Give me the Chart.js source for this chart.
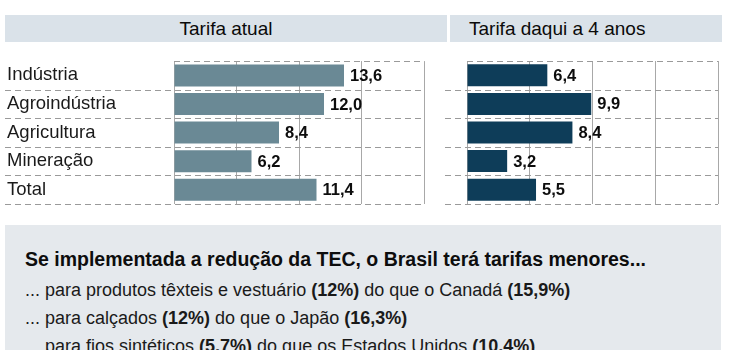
<!DOCTYPE html>
<html>
<head>
<meta charset="utf-8">
<script src="https://cdn.jsdelivr.net/npm/chart.js@4.4.0/dist/chart.umd.min.js"></script>
<style>
  html, body { margin: 0; padding: 0; background: #ffffff; }
  body { width: 730px; height: 350px; position: relative; overflow: hidden; font-family: "Liberation Sans", Arial, sans-serif; color: #141414; }
  .hdr { position: absolute; top: 15px; height: 27px; background: #dae2e9; font-size: 19px; line-height: 27px; color: #0a0a0a; }
  #h1 { left: 5px; width: 442px; text-align: center; }
  #h2 { left: 450px; width: 272px; }
  #h2 span { position: absolute; left: 19px; }
  canvas { position: absolute; }
  #box { position: absolute; left: 5px; top: 225px; width: 716px; height: 130px; background: #e5e9ed; }
  #box .t { position: absolute; left: 20px; top: 22.5px; font-weight: bold; font-size: 19.5px; color: #0d0d0d; white-space: nowrap; }
  #box .l { position: absolute; left: 20px; font-size: 18px; color: #1a1a1a; white-space: nowrap; }
</style>
</head>
<body>
<div class="hdr" id="h1">Tarifa atual</div>
<div class="hdr" id="h2"><span>Tarifa daqui a 4 anos</span></div>
<canvas id="c1" width="440" height="170" style="left:0;top:50px"></canvas>
<canvas id="c2" width="290" height="170" style="left:440px;top:50px"></canvas>
<div id="box">
  <div class="t">Se implementada a redução da TEC, o Brasil terá tarifas menores...</div>
  <div class="l" style="top:54.5px">... para produtos têxteis e vestuário <b>(12%)</b> do que o Canadá <b>(15,9%)</b></div>
  <div class="l" style="top:82.5px">... para calçados <b>(12%)</b> do que o Japão <b>(16,3%)</b></div>
  <div class="l" style="top:110.5px">... para fios sintéticos <b>(5,7%)</b> do que os Estados Unidos <b>(10,4%)</b></div>
</div>
<script>
const categories = ["Indústria", "Agroindústria", "Agricultura", "Mineração", "Total"];
const tarifaAtual = [13.6, 12.0, 8.4, 6.2, 11.4];
const tarifaFutura = [6.4, 9.9, 8.4, 3.2, 5.5];
const xTicks = [0, 5, 10, 15, 20];

const rowLines = {
  id: 'rowLines',
  beforeDatasetsDraw(chart, args, opts) {
    const ca = chart.chartArea;
    const n = chart.data.labels.length;
    const band = (ca.bottom - ca.top) / n;
    const ctx = chart.ctx;
    ctx.save();
    ctx.strokeStyle = '#9a9a9a';
    ctx.lineWidth = 1;
    ctx.setLineDash([6, 4]);
    for (let k = 0; k <= n; k++) {
      const y = Math.round(ca.top + k * band) + 0.5;
      const x0 = (k === 0) ? ca.left : opts.start;
      ctx.beginPath();
      ctx.moveTo(x0, y);
      ctx.lineTo(ca.right, y);
      ctx.stroke();
    }
    ctx.restore();
  }
};

const valueLabels = {
  id: 'valueLabels',
  afterDatasetsDraw(chart) {
    const ctx = chart.ctx;
    const meta = chart.getDatasetMeta(0);
    const vals = chart.data.datasets[0].data;
    ctx.save();
    ctx.font = 'bold 16.5px "Liberation Sans", Arial, sans-serif';
    ctx.fillStyle = '#0d0d0d';
    ctx.textAlign = 'left';
    ctx.textBaseline = 'middle';
    meta.data.forEach((bar, i) => {
      ctx.fillText(vals[i].toFixed(1).replace('.', ','), bar.x + 6, bar.y + 1);
    });
    ctx.restore();
  }
};

function makeChart(id, data, color, showLabels, pad) {
  return new Chart(document.getElementById(id), {
    type: 'bar',
    data: {
      labels: categories,
      datasets: [{ data: data, backgroundColor: color, borderWidth: 0, categoryPercentage: 1, barPercentage: 0.77 }]
    },
    options: {
      indexAxis: 'y',
      responsive: false,
      animation: false,
      layout: { padding: pad },
      plugins: {
        legend: { display: false },
        tooltip: { enabled: false },
        rowLines: { start: 5 }
      },
      scales: {
        x: {
          min: 0, max: 20,
          afterBuildTicks(scale) { scale.ticks = xTicks.map(v => ({ value: v })); },
          ticks: { display: false },
          grid: { color: '#a8a8a8', lineWidth: 1, drawTicks: false },
          border: { display: false }
        },
        y: {
          display: showLabels,
          afterFit(scale) { if (showLabels) scale.width = 167; },
          ticks: {
            crossAlign: 'far',
            padding: 0,
            color: '#1a1a1a',
            font: { family: '"Liberation Sans", Arial, sans-serif', size: 18.5 }
          },
          grid: { display: false },
          border: { display: false }
        }
      }
    },
    plugins: [rowLines, valueLabels]
  });
}

makeChart('c1', tarifaAtual, '#6a8995', true, { left: 7, right: 16, top: 11, bottom: 16 });
makeChart('c2', tarifaFutura, '#0e3d59', false, { left: 27, right: 12, top: 11, bottom: 16 });
</script>
</body>
</html>
